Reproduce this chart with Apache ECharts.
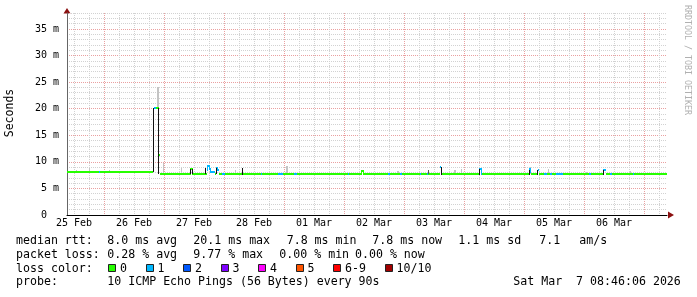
<!DOCTYPE html>
<html><head><meta charset="utf-8">
<script src="https://cdn.jsdelivr.net/npm/echarts@6/dist/echarts.min.js"></script>
<style>html,body{margin:0;padding:0;background:#fff}#c{width:697px;height:297px}</style>
</head><body><div id="c"></div>
<script>
// ===== data (time in hours since 25 Feb 2026 00:00) =====
const viewStartH = 9.2;
const viewEndH = 249.2;
const stepH = 0.4;               // one consolidated rrd row
const dayLabels = ['25 Feb','26 Feb','27 Feb','28 Feb','01 Mar','02 Mar','03 Mar','04 Mar','05 Mar','06 Mar'];
const yTickValues = [0,5,10,15,20,25,30,35];
const yMaxMs = 38;

// median RTT step line: segment start (h), median (ms), lost pings out of 10
const medStartH = [9.2,22.1,22.5,43.5,43.9,44.8,45.9,46.3,58.4,59.1,65.0,65.3,65.9,66.3,68.4,68.8,69.2,69.8,71.1,72.4,
  86.8,87.2,93.7,95.7,100.0,101.1,121.7,122.1,126.8,127.5,137.6,138.4,142.4,143.1,150.4,150.8,153.2,153.6,158.4,158.8,
  173.9,174.7,175.2,194.0,194.4,194.7,197.5,198.1,200.0,201.1,202.4,203.1,204.8,207.7,218.1,218.8,223.7,224.7,226.4,227.2,235.7,236.1];
const medMs = [8.0,8.0,8.0,14.2,20.1,20.1,11.3,7.8,8.6,7.8,8.4,9.2,8.6,8.0,7.8,8.9,8.4,7.8,7.8,7.8,
  7.8,7.8,7.8,7.8,7.8,7.8,7.8,7.8,8.2,7.8,7.8,7.8,7.8,7.8,7.8,7.8,7.8,7.8,9.0,7.8,
  8.6,7.8,7.8,8.6,8.0,7.8,8.5,7.8,7.8,7.8,7.8,7.8,7.8,7.8,7.8,7.8,8.5,7.8,7.8,7.8,7.8,7.8];
const medLoss = [0,1,0,1,1,0,0,0,0,0,1,1,1,1,0,1,1,0,1,0,
  1,0,1,0,1,0,1,0,0,0,1,0,1,0,1,0,1,0,1,0,
  1,1,0,1,1,0,1,0,1,0,1,0,1,0,1,0,1,0,1,0,1,0];

// smoke: time (h), lowest ping (ms), highest ping (ms), shade (0 light, 1 dark, 2 black)
const smokeH    = [12.7,18.1,26.1,43.4,45.1,45.5,45.7,47.5,54.6,58.4,59.2,64.5,68.9,76.4,79.3,96.8,97.2,141.1,141.5,153.5,
  158.6,163.8,164.2,166.8,174.0,193.8,194.2,197.3,199.7,201.7,216.9,217.3,223.6,234.4];
const smokeLow  = [8.0,8.0,8.0,8.0,20.1,20.1,7.7,7.8,8.0,7.8,7.8,7.8,7.8,7.8,7.5,7.8,7.8,7.8,7.8,7.8,
  7.5,7.8,7.8,7.8,7.5,7.5,7.8,7.5,7.8,7.8,7.8,7.8,7.5,7.8];
const smokeHigh = [8.4,8.9,8.5,20.1,24.1,24.1,20.1,9.7,8.8,8.6,8.6,8.8,8.9,8.5,8.9,9.3,9.3,8.3,8.3,8.5,
  9.1,8.4,8.4,8.6,8.6,8.5,9.1,8.5,8.1,8.6,8.1,8.1,8.5,8.2];
const smokeShade= [0,0,0,2,0,0,2,0,0,2,2,2,2,0,2,0,0,0,0,1,
  2,0,0,0,2,2,0,2,0,0,0,0,2,0];

const lossLabels = ['0','1','2','3','4','5','6-9','10/10'];
const lossColors = ['#26ff00','#00b8ff','#0059ff','#7e00ff','#ff00ff','#ff5500','#ff0000','#a10000'];

const rttRow = [['median rtt:',16],['8.0 ms avg',107.3],['20.1 ms max',193.3],['7.8 ms min',286.7],['7.8 ms now',372.3],['1.1 ms sd',458.3],['7.1',539.3],['am/s',579.3]];
const lossRow = [['packet loss:',16],['0.28 % avg',107.3],['9.77 % max',193.3],['0.00 % min',279.3],['0.00 % now',355]];
const probeRow = [['probe:',16],['10 ICMP Echo Pings (56 Bytes) every 90s',107.3],['Sat Mar  7 08:46:06 2026',513.3]];

// ===== build =====
const MONO = '"DejaVu Sans Mono", monospace';
function lossColor(l){ return lossColors[l >= 10 ? 7 : (l >= 6 ? 6 : l)]; }

const medData = medStartH.map((s,i)=>[s, i+1<medStartH.length ? medStartH[i+1] : viewEndH, medMs[i], medLoss[i],
  i>0 ? medMs[i-1] : medMs[i], i>0 ? medLoss[i-1] : medLoss[i]]);
const smokeLight = [], smokeDark = [];
smokeH.forEach((h,i)=>{ (smokeShade[i]===0 ? smokeLight : smokeDark).push([h, smokeLow[i], smokeHigh[i], smokeShade[i]]); });
const shadeColors = ['#c4c4c4','#555555','#111111'];

function renderSmoke(params, api){
  const h = api.value(0);
  const a = api.coord([h, api.value(2)]), b = api.coord([h + stepH, api.value(1)]);
  const x0 = Math.round(a[0]), x1 = Math.max(x0+1, Math.round(b[0]));
  const y0 = Math.round(a[1]), y1 = Math.round(b[1]);
  return {type:'rect', shape:{x:x0, y:y0, width:x1-x0, height:Math.max(1,y1-y0)}, style:{fill: shadeColors[api.value(3)]}};
}
function renderMedian(params, api){
  const s = api.value(0), e = api.value(1), v = api.value(2), loss = api.value(3), prev = api.value(4), prevLoss = api.value(5);
  const p0 = api.coord([s, v]), p1 = api.coord([e, v]);
  const c = lossColor(loss);
  const x0 = Math.round(p0[0]), x1 = Math.round(p1[0]);
  const y = Math.round(p0[1] - 1);
  const kids = [{type:'rect', shape:{x:x0, y:y, width:Math.max(1,x1-x0), height:2}, style:{fill:c}}];
  if (prev !== v && prevLoss === loss && Math.abs(prev - v) < 3) {
    const q = api.coord([s, prev]);
    const ya = Math.round(Math.min(q[1], p0[1]) - 1), yb = Math.round(Math.max(q[1], p0[1]) + 1);
    kids.push({type:'rect', shape:{x:x0, y:ya, width:1, height:yb-ya}, style:{fill:c}});
  }
  return {type:'group', children:kids};
}

const midnights = []; for (let h = 24; h <= viewEndH; h += 24) if (h >= viewStartH) midnights.push(h);
const sixHours = []; for (let h = 0; h <= viewEndH; h += 6) if (h >= viewStartH && h % 24 !== 0) sixHours.push(h);
const noons = dayLabels.map((d,i)=>12 + 24*i);
const yMinor = []; for (let v = 1; v <= yMaxMs; v++) if (v % 5 !== 0) yMinor.push(v);

const minorStyle = {color:'#d2d2d2', width:1, type:[1,1]};
const majorStyle = {color:'#eaa0a0', width:1, type:[1,1]};

const chart = echarts.init(document.getElementById('c'), null, {renderer:'canvas'});

const graphics = [];
function txt(t, x, y){ graphics.push({type:'text', x:x, y:y, style:{text:t, font:'11.6px '+MONO, fill:'#000', textAlign:'left', textVerticalAlign:'middle'}}); }
rttRow.forEach(r=>txt(r[0], r[1], 241.2));
lossRow.forEach(r=>txt(r[0], r[1], 254.6));
txt('loss color:', 16, 268.6);
let bx = 108.3;
lossLabels.forEach((lab,i)=>{
  const xr = Math.round(bx) + 0.5;
  graphics.push({type:'rect', shape:{x:xr, y:264.5, width:7, height:7}, style:{fill:lossColors[i], stroke:'#222', lineWidth:1}});
  txt(lab, bx + 11.7, 268.6);
  bx = bx + 11.7 + lab.length*7.0 + 18.8;
});
probeRow.forEach(r=>txt(r[0], r[1], 282));
// y axis title
graphics.push({type:'text', x:10, y:113, rotation:Math.PI/2, style:{text:'Seconds', font:'11.5px '+MONO, fill:'#000', textAlign:'center', textVerticalAlign:'middle'}});
// watermark
graphics.push({type:'text', x:687.5, y:60, rotation:-Math.PI/2, style:{text:'RRDTOOL / TOBI OETIKER', font:'8.3px '+MONO, fill:'#b0b0b0', textAlign:'center', textVerticalAlign:'middle'}});
// axis arrows
graphics.push({type:'polygon', shape:{points:[[63.5,13.5],[70.5,13.5],[67,8]]}, style:{fill:'#8b1010'}});
graphics.push({type:'polygon', shape:{points:[[668,211.5],[668,218.5],[674,215]]}, style:{fill:'#8b1010'}});

const option = {
  animation:false,
  backgroundColor:'#ffffff',
  grid:{left:67, right:30, top:13, bottom:82, containLabel:false, outerBoundsMode:'none'},
  xAxis:[
    {type:'value', min:viewStartH, max:viewEndH, position:'bottom',
     axisLine:{show:true, onZero:false, lineStyle:{color:'#000', width:1}},
     axisTick:{show:false, customValues:midnights},
     axisLabel:{show:true, customValues:noons, margin:3, fontSize:10, fontFamily:MONO, color:'#000',
       formatter:(v)=>dayLabels[Math.round((v-12)/24)]},
     splitLine:{show:true, lineStyle:majorStyle}},
    {type:'value', min:viewStartH, max:viewEndH, position:'bottom',
     axisLine:{show:false}, axisTick:{show:false, customValues:sixHours}, axisLabel:{show:false},
     splitLine:{show:true, lineStyle:minorStyle}}
  ],
  yAxis:[
    {type:'value', min:0, max:yMaxMs, position:'left',
     axisLine:{show:true, lineStyle:{color:'#666', width:1}},
     axisTick:{show:false, customValues:yTickValues},
     axisLabel:{show:true, customValues:yTickValues, margin:8, fontSize:10, fontFamily:MONO, color:'#000',
       formatter:(v)=> v===0 ? '0  ' : v+' m'},
     splitLine:{show:true, lineStyle:majorStyle}},
    {type:'value', min:0, max:yMaxMs, position:'left',
     axisLine:{show:false}, axisTick:{show:false, customValues:yMinor}, axisLabel:{show:false},
     splitLine:{show:true, lineStyle:minorStyle}}
  ],
  series:[
    {type:'custom', name:'smoke', xAxisIndex:0, yAxisIndex:0, clip:true, z:2, renderItem:renderSmoke,
     encode:{x:0, y:[1,2]}, data:smokeLight},
    {type:'custom', name:'median', xAxisIndex:0, yAxisIndex:0, clip:true, z:3, renderItem:renderMedian,
     encode:{x:[0,1], y:2}, data:medData},
    {type:'custom', name:'smokeDark', xAxisIndex:0, yAxisIndex:0, clip:true, z:4, renderItem:renderSmoke,
     encode:{x:0, y:[1,2]}, data:smokeDark}
  ],
  graphic:graphics
};
chart.setOption(option);
</script>
</body></html>
